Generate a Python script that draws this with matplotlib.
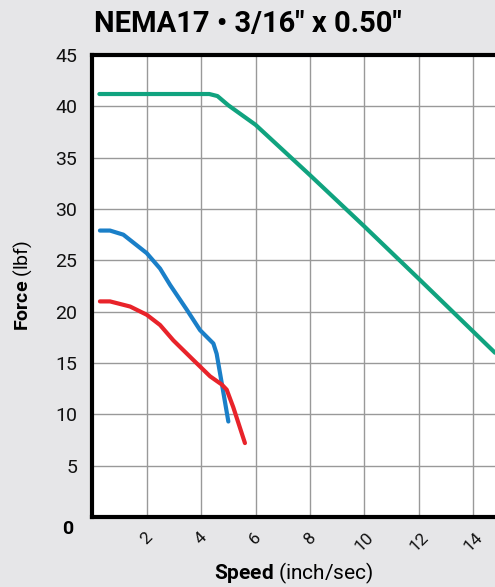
import matplotlib
matplotlib.use("Agg")
import matplotlib.pyplot as plt

plt.rcParams['font.family'] = ['Roboto', 'DejaVu Sans']
plt.rcParams['mathtext.fontset'] = 'custom'
plt.rcParams['mathtext.rm'] = 'Roboto'
plt.rcParams['mathtext.bf'] = 'Roboto:bold'

# curves (speed in inch/sec, force in lbf)
green_x = [0.26, 4.3, 4.6, 5.0, 6.0, 8.0, 10.0, 12.0, 14.8]
green_y = [41.2, 41.2, 41.0, 40.1, 38.2, 33.3, 28.3, 23.2, 16.0]

blue_x = [0.28, 0.65, 1.14, 2.0, 2.49, 2.86, 3.47, 3.96, 4.45, 4.57, 4.76, 5.0]
blue_y = [27.9, 27.9, 27.5, 25.7, 24.2, 22.6, 20.2, 18.2, 16.9, 15.9, 13.0, 9.3]

red_x = [0.28, 0.65, 1.39, 2.0, 2.49, 2.98, 3.71, 4.33, 4.76, 4.94, 5.18, 5.61]
red_y = [21.0, 21.0, 20.5, 19.7, 18.7, 17.2, 15.3, 13.7, 12.9, 12.4, 10.7, 7.2]

x_ticks = [2, 4, 6, 8, 10, 12, 14]
y_ticks = [5, 10, 15, 20, 25, 30, 35, 40, 45]

bg = '#e6e6e8'
fig = plt.figure(figsize=(4.95, 5.87), dpi=100, facecolor=bg)
ax = fig.add_axes([92.3 / 495, 70 / 587, 1 - 92.3 / 495, 462 / 587])
ax.set_facecolor('white')

ax.plot(green_x, green_y, color='#10a37f', lw=3, solid_capstyle='round', solid_joinstyle='round')
ax.plot(blue_x, blue_y, color='#1a7fc8', lw=3, solid_capstyle='round', solid_joinstyle='round')
ax.plot(red_x, red_y, color='#e8232a', lw=3, solid_capstyle='round', solid_joinstyle='round')

ax.set_xlim(0, 14.8)
ax.set_ylim(0, 45)
ax.set_xticks(x_ticks)
ax.set_yticks(y_ticks)
ax.set_xticklabels([str(t) for t in x_ticks], rotation=45, ha='center', va='top')
ax.tick_params(axis='both', length=0, colors='#111111')
ax.tick_params(axis='y', pad=11, labelsize=14)
ax.tick_params(axis='x', pad=9, labelsize=12.5)
ax.grid(True, color='#999999', lw=1)
ax.set_axisbelow(True)

for side in ['left', 'bottom', 'top']:
    ax.spines[side].set_linewidth(3)
    ax.spines[side].set_color('black')
ax.spines['right'].set_visible(False)

ax.text(-0.89, -1.17, '0', fontsize=14, fontweight='bold', ha='center', va='center', clip_on=False)

ax.set_xlabel(r'$\bf{Speed}$ (inch/sec)', fontsize=15)
ax.xaxis.set_label_coords(0.5, (517 - 573) / 462)
ax.xaxis.label.set_va('center')
ax.set_ylabel(r'$\bf{Force}$ (lbf)', fontsize=14)
ax.yaxis.set_label_coords((22.5 - 92.3) / 402.7, 0.5)
ax.yaxis.label.set_va('center')

fig.text(0.5, 1 - 32 / 587, 'NEMA17 \u2022 3/16" x 0.50"', fontsize=21, fontweight='bold',
         ha='center', va='baseline')

fig.savefig('out.png', dpi=100, facecolor=bg)
